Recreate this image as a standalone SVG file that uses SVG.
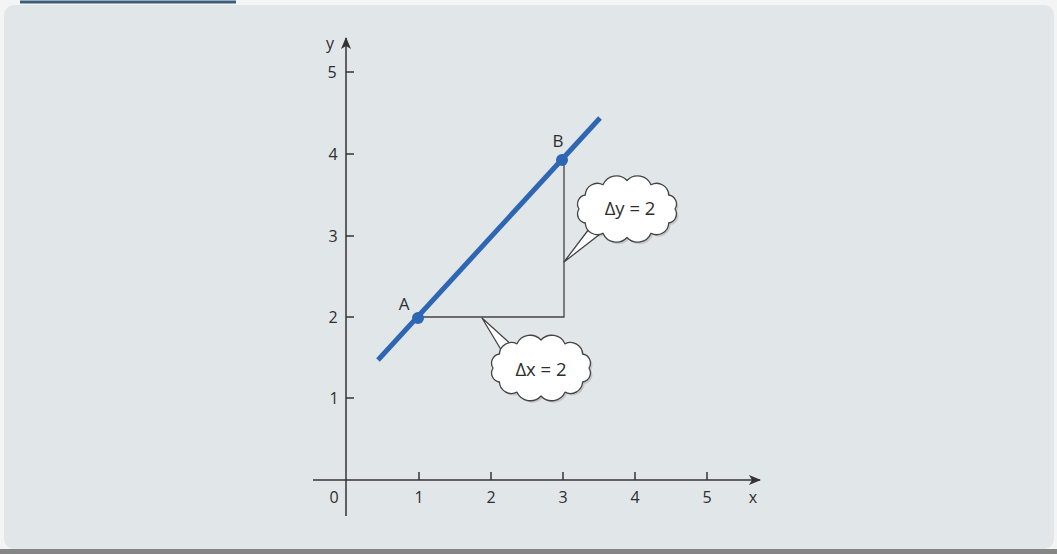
<svg xmlns="http://www.w3.org/2000/svg" width="1057" height="554" viewBox="0 0 1057 554">
  <defs>
    <style>
      .axis { stroke: #333; stroke-width: 1.5; fill: none; }
      .tick { stroke: #333; stroke-width: 1.5; }
      .guide { stroke: #444; stroke-width: 1.3; fill: none; }
      .lbl { font-family: "Open Sans", "Liberation Sans", sans-serif; font-size: 16px; fill: #2e2e2e; text-anchor: middle; }
      .pt { font-family: "Open Sans", "Liberation Sans", sans-serif; font-size: 17px; fill: #2e2e2e; text-anchor: middle; }
      .bub { fill: #fff; stroke: #444; stroke-width: 1.3; stroke-linejoin: round; }
      .shadow { fill: #9ea4a8; opacity: 0.45; }
      .btxt { font-family: "Open Sans", "Liberation Sans", sans-serif; font-size: 18.5px; fill: #2e2e2e; text-anchor: middle; }
    </style>
    <marker id="arr" viewBox="0 0 12 10" refX="11" refY="5" markerWidth="12" markerHeight="10" markerUnits="userSpaceOnUse" orient="auto">
      <path d="M0,0 L12,5 L0,10 L3,5 Z" fill="#333"/>
    </marker>
  </defs>

  <!-- background -->
  <rect x="0" y="0" width="1057" height="554" fill="#f3f4f4"/>
  <rect x="4" y="5" width="1050" height="544" rx="10" fill="#e1e6e9"/>
  <rect x="0" y="549" width="1057" height="5" fill="#858585"/>
  <line x1="20" y1="2" x2="236" y2="2" stroke="#3c5e7c" stroke-width="3"/>

  <!-- axes -->
  <g id="axes">
    <line class="axis" x1="346" y1="516" x2="346" y2="38" marker-end="url(#arr)"/>
    <line class="axis" x1="313" y1="480" x2="760" y2="480" marker-end="url(#arr)"/>
    <g class="tick">
      <line x1="419" y1="472" x2="419" y2="480"/>
      <line x1="491" y1="472" x2="491" y2="480"/>
      <line x1="563" y1="472" x2="563" y2="480"/>
      <line x1="635" y1="472" x2="635" y2="480"/>
      <line x1="707" y1="472" x2="707" y2="480"/>
      <line x1="346" y1="72" x2="354" y2="72"/>
      <line x1="346" y1="154" x2="354" y2="154"/>
      <line x1="346" y1="236" x2="354" y2="236"/>
      <line x1="346" y1="317" x2="354" y2="317"/>
      <line x1="346" y1="398" x2="354" y2="398"/>
    </g>
    <text class="lbl" x="334" y="503">0</text>
    <text class="lbl" x="419" y="503">1</text>
    <text class="lbl" x="491" y="503">2</text>
    <text class="lbl" x="563" y="503">3</text>
    <text class="lbl" x="635" y="503">4</text>
    <text class="lbl" x="707" y="503">5</text>
    <text class="lbl" x="753" y="503">x</text>
    <text class="lbl" x="332" y="78">5</text>
    <text class="lbl" x="333" y="160">4</text>
    <text class="lbl" x="333" y="242">3</text>
    <text class="lbl" x="333" y="323">2</text>
    <text class="lbl" x="334" y="404">1</text>
    <text class="lbl" x="330" y="49">y</text>
  </g>

  <!-- connectors: guide lines -->
  <g id="connectors">
    <polyline class="guide" points="419,317 564,317 564,160"/>
    <line x1="378" y1="360" x2="600" y2="118" stroke="#2f66b3" stroke-width="5" stroke-linecap="butt"/>
  </g>

  <g id="pointA">
    <circle cx="418" cy="318" r="6" fill="#2f66b3"/>
    <text class="pt" x="404" y="310">A</text>
  </g>
  <g id="pointB">
    <circle cx="562" cy="160" r="6" fill="#2f66b3"/>
    <text class="pt" x="558" y="147">B</text>
  </g>

  <!-- bubble dy -->
  <g id="bubble-dy">
    <path class="shadow" transform="translate(2,2)" d="M675,209 A9.2,9.2 0 0 1 668.7,223 A12,12 0 0 1 651,233.2 A14.5,14.5 0 0 1 627,237.5 A14.5,14.5 0 0 1 603,233.2 A12,12 0 0 1 585.3,223 A9.2,9.2 0 0 1 579,209 A9.2,9.2 0 0 1 585.3,195 A12,12 0 0 1 603,184.8 A14.5,14.5 0 0 1 627,180.5 A14.5,14.5 0 0 1 651,184.8 A12,12 0 0 1 668.7,195 A9.2,9.2 0 0 1 675,209 Z"/>
    <path class="bub" d="M592,225 L564,262 L604,231 Z"/>
    <path class="bub" d="M675,209 A9.2,9.2 0 0 1 668.7,223 A12,12 0 0 1 651,233.2 A14.5,14.5 0 0 1 627,237.5 A14.5,14.5 0 0 1 603,233.2 A12,12 0 0 1 585.3,223 A9.2,9.2 0 0 1 579,209 A9.2,9.2 0 0 1 585.3,195 A12,12 0 0 1 603,184.8 A14.5,14.5 0 0 1 627,180.5 A14.5,14.5 0 0 1 651,184.8 A12,12 0 0 1 668.7,195 A9.2,9.2 0 0 1 675,209 Z"/>
    <path d="M593,226 L601,230" stroke="#fff" stroke-width="3"/>
    <text class="btxt" x="630" y="215">Δy = 2</text>
  </g>

  <!-- bubble dx -->
  <g id="bubble-dx">
    <path class="shadow" transform="translate(2,2)" d="M589,368 A9.2,9.2 0 0 1 582.6,382 A12.2,12.2 0 0 1 565,392.2 A14.6,14.6 0 0 1 541,396 A14.6,14.6 0 0 1 517,392.2 A12.2,12.2 0 0 1 499.4,382 A9.2,9.2 0 0 1 493,368 A9.2,9.2 0 0 1 499.4,354 A12.2,12.2 0 0 1 517,343.8 A14.6,14.6 0 0 1 541,340 A14.6,14.6 0 0 1 565,343.8 A12.2,12.2 0 0 1 582.6,354 A9.2,9.2 0 0 1 589,368 Z"/>
    <path class="bub" d="M503,353 L482,318 L514,347 Z"/>
    <path class="bub" d="M589,368 A9.2,9.2 0 0 1 582.6,382 A12.2,12.2 0 0 1 565,392.2 A14.6,14.6 0 0 1 541,396 A14.6,14.6 0 0 1 517,392.2 A12.2,12.2 0 0 1 499.4,382 A9.2,9.2 0 0 1 493,368 A9.2,9.2 0 0 1 499.4,354 A12.2,12.2 0 0 1 517,343.8 A14.6,14.6 0 0 1 541,340 A14.6,14.6 0 0 1 565,343.8 A12.2,12.2 0 0 1 582.6,354 A9.2,9.2 0 0 1 589,368 Z"/>
    <path d="M504,351 L512,347" stroke="#fff" stroke-width="3"/>
    <text class="btxt" x="541" y="376">Δx = 2</text>
  </g>
</svg>
